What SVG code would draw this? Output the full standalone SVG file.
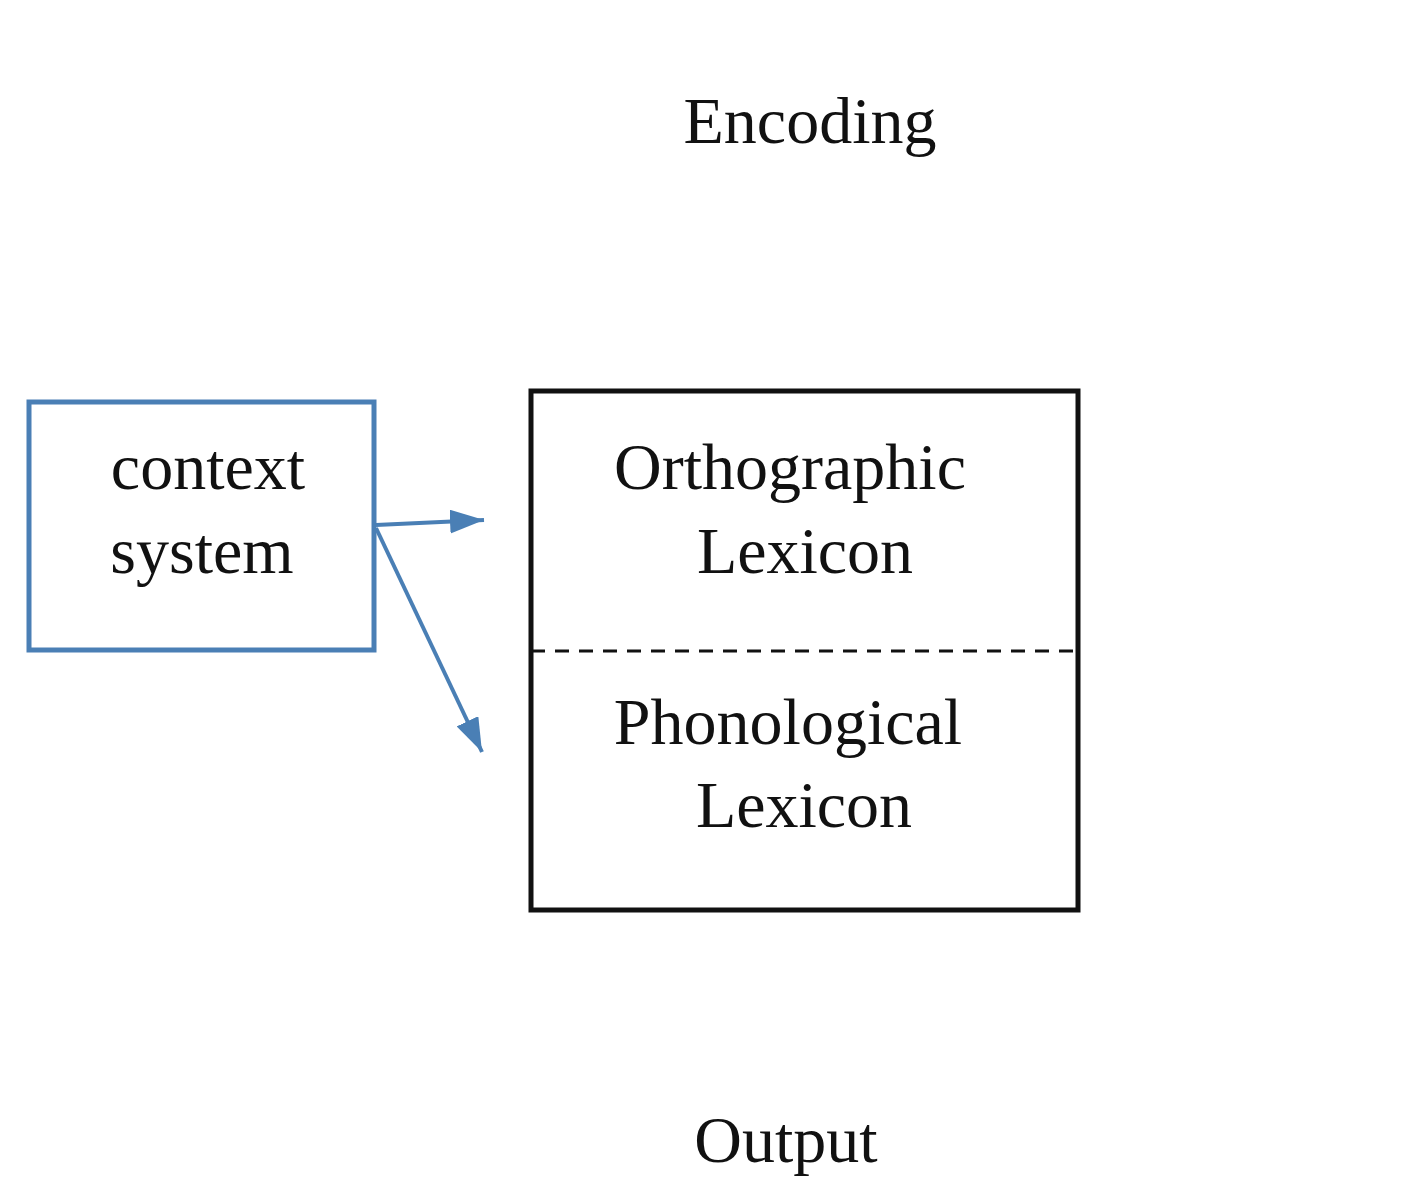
<svg xmlns="http://www.w3.org/2000/svg" width="1427" height="1200" viewBox="0 0 1427 1200">
<style>
text{font-family:"Liberation Serif",serif;font-size:66px;fill:#111}
.blue{stroke:#4a7fb5;fill:none}
</style>
<defs><marker id="ah" markerWidth="10" markerHeight="8" refX="9" refY="4" orient="auto" markerUnits="userSpaceOnUse" viewBox="0 0 10 8"><path d="M0,0L10,4L0,8z" fill="#4a7fb5"/></marker>
<marker id="a2" markerWidth="34" markerHeight="24" refX="34" refY="12" orient="auto" markerUnits="userSpaceOnUse"><path d="M0,0L34,12L0,24z" fill="#4a7fb5"/></marker></defs>
<rect width="1427" height="1200" fill="#fff"/>
<text x="810" y="143" text-anchor="middle">Encoding</text>
<text x="786" y="1162" text-anchor="middle">Output</text>
<g id="context"><rect x="29" y="402" width="345" height="248" class="blue" stroke-width="5"/>
<text x="208" y="489" text-anchor="middle">context</text><text x="202" y="573" text-anchor="middle">system</text></g>
<g id="lexicon"><rect x="531" y="391" width="547" height="519" fill="none" stroke="#111" stroke-width="5"/>
<line x1="531" y1="651" x2="1078" y2="651" stroke="#111" stroke-width="3" stroke-dasharray="14,10"/>
<text x="790" y="489" text-anchor="middle">Orthographic</text><text x="805" y="573" text-anchor="middle">Lexicon</text>
<text x="788" y="744" text-anchor="middle">Phonological</text><text x="804" y="827" text-anchor="middle">Lexicon</text></g>
<g id="connectors" class="blue" stroke-width="4">
<line x1="376" y1="525" x2="484" y2="520" marker-end="url(#a2)"/>
<line x1="376" y1="528" x2="482" y2="752" marker-end="url(#a2)"/>
</g>
</svg>
